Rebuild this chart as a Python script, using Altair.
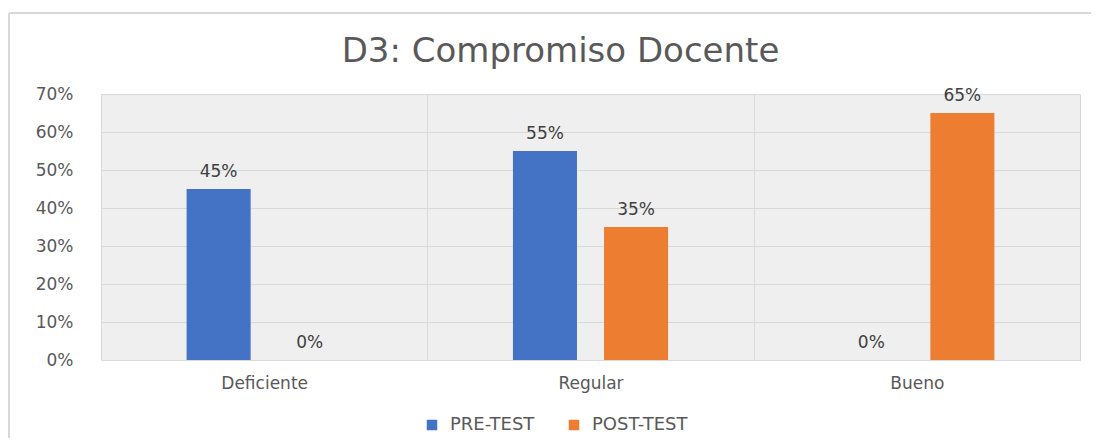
import altair as alt
import pandas as pd

categorias = ["Deficiente", "Regular", "Bueno"]
series = ["PRE-TEST", "POST-TEST"]
pre_test = [0.45, 0.55, 0.0]
post_test = [0.0, 0.35, 0.65]
y_ticks = [0.0, 0.1, 0.2, 0.3, 0.4, 0.5, 0.6, 0.7]
colores = ["#4472C4", "#ED7D31"]

rows = []
for c, a, b in zip(categorias, pre_test, post_test):
    rows.append({"cat": c, "serie": series[0], "valor": a})
    rows.append({"cat": c, "serie": series[1], "valor": b})
df = pd.DataFrame(rows)

FONT = "DejaVu Sans"
GRAY = "#595959"

x_enc = alt.X(
    "cat:N",
    sort=categorias,
    scale=alt.Scale(paddingInner=0, paddingOuter=0),
    axis=alt.Axis(
        title=None, labelAngle=0, domain=False, ticks=False, grid=True,
        tickBand="extent", gridColor="#d9d9d9", gridWidth=1,
        labelFont=FONT, labelFontSize=17, labelColor=GRAY, labelPadding=15,
    ),
)
xoff_enc = alt.XOffset(
    "serie:N", sort=series,
    scale=alt.Scale(paddingInner=0.297, paddingOuter=0.94),
)
y_enc = alt.Y(
    "valor:Q",
    scale=alt.Scale(domain=[0, 0.7], nice=False),
    axis=alt.Axis(
        title=None, values=y_ticks, format=".0%", domain=False, ticks=False,
        grid=True, gridColor="#d9d9d9", gridWidth=1, labelOverlap=False,
        labelFont=FONT, labelFontSize=17, labelColor=GRAY, labelPadding=28,
    ),
)
color_enc = alt.Color(
    "serie:N", sort=series,
    scale=alt.Scale(domain=series, range=colores),
    legend=alt.Legend(
        title=None, orient="none", direction="horizontal",
        legendX=322, legendY=322, symbolType="square", symbolSize=110,
        symbolStrokeWidth=0, labelFont=FONT, labelFontSize=18, labelColor=GRAY,
        columnPadding=30, labelOffset=9,
    ),
)

base = alt.Chart(df)
bars = base.mark_bar().encode(x=x_enc, xOffset=xoff_enc, y=y_enc, color=color_enc)
labels = base.mark_text(
    baseline="alphabetic", dy=-12, font=FONT, fontSize=17, color="#404040"
).encode(
    x=x_enc,
    xOffset=xoff_enc,
    y=y_enc,
    text=alt.Text("valor:Q", format=".0%"),
)

frame_data = alt.Data(values=[{"k": 1}])
frame_left = alt.Chart(frame_data).mark_rule(color="#d9d9d9", strokeWidth=2).encode(
    x=alt.value(-92), y=alt.value(-81), y2=alt.value(344)
)
frame_top = alt.Chart(frame_data).mark_rule(color="#d9d9d9", strokeWidth=2).encode(
    x=alt.value(-92), x2=alt.value(990), y=alt.value(-81)
)

chart = alt.layer(frame_left, frame_top, bars, labels).properties(
    width=979,
    height=266,
    title=alt.TitleParams(
        "D3: Compromiso Docente", font=FONT, fontSize=34, fontWeight="normal",
        color=GRAY, anchor="middle", dx=-30, dy=79, offset=22,
    ),
    autosize=alt.AutoSizeParams(type="none"),
    padding={"left": 93, "top": 86, "right": 14, "bottom": 78},
).configure_view(
    stroke="#d9d9d9", fill="#efefef"
)

chart.save("out.html", embed_options={"renderer": "svg", "actions": False})
